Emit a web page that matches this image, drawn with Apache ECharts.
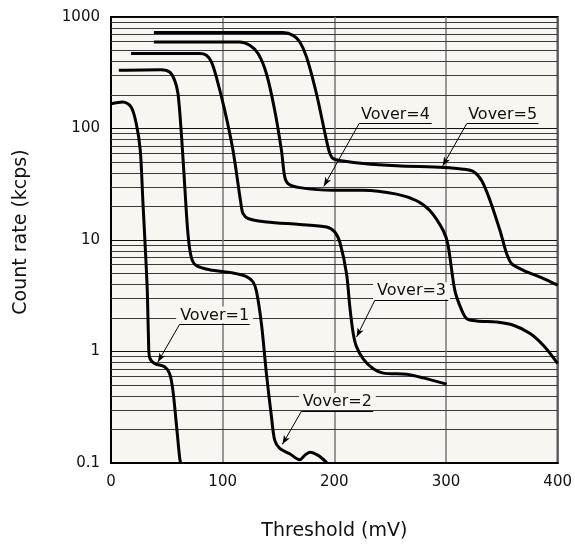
<!DOCTYPE html>
<html>
<head>
<meta charset="utf-8">
<script src="https://cdn.jsdelivr.net/npm/echarts@6/dist/echarts.min.js"></script>
<style>
html,body{margin:0;padding:0;background:#fff;}
#main{width:575px;height:547px;}
</style>
</head>
<body>
<div id="main"></div>
<script>
// X tick values and Y tick labels
var xTicks = [0, 100, 200, 300, 400];
var yTicks = [0.1, 1, 10, 100, 1000];
var yTickLabels = ['0.1', '1', '10', '100', '1000'];
var yMinorMultipliers = [2, 3, 4, 5, 6, 7, 8, 9];

// Series: threshold (mV) and count rate (kcps)
var v1X = [0, 10.6, 18, 22.6, 26.2, 28.5, 30.7, 32.5, 33.6, 34.5, 39, 48, 52.5, 55.4, 58.5, 61.4, 62.3];
var v1Y = [167, 173, 156, 111, 64, 22.7, 8.5, 3.5, 1.26, 0.89, 0.78, 0.73, 0.63, 0.45, 0.225, 0.113, 0.1];

var v2X = [7, 45, 52.5, 57, 60, 63, 65.9, 68.9, 71.9, 76.4, 88.3, 109.2, 121.3, 127.2, 130.2, 134.7, 139.2, 143.7, 146.6, 151.1, 160, 169, 173.5, 178, 185.5, 193.6];
var v2Y = [333, 337, 321, 270, 205, 90, 32, 11.4, 7.0, 5.9, 5.4, 5.06, 4.7, 4.2, 3.5, 1.78, 0.63, 0.26, 0.16, 0.135, 0.121, 0.107, 0.117, 0.125, 0.117, 0.1];

var v3X = [18, 79.4, 85.4, 89.9, 94.3, 101.8, 109.2, 116.8, 118.2, 122.7, 139.2, 169, 193, 200.4, 205, 210.9, 213.9, 216.9, 219.9, 225.8, 234.8, 243.8, 264.7, 279.6, 300.6];
var v3Y = [470, 470, 454, 395, 290, 146, 64, 19.8, 17.3, 15.6, 14.5, 13.8, 13.1, 11.8, 9.5, 5.0, 2.5, 1.45, 1.1, 0.86, 0.70, 0.64, 0.625, 0.58, 0.51];

var v4X = [38.4, 115.2, 124.2, 131.7, 139.2, 146.6, 152.6, 155.6, 158.6, 169.1, 198.9, 225.8, 255.8, 273.7, 285.7, 297.6, 301.8, 308, 314.1, 318.6, 327.5, 345.5, 360.4, 375.3, 387.3, 400];
var v4Y = [597, 597, 557, 470, 310, 146, 64, 36.7, 32, 29.5, 27.9, 28, 25.8, 22.5, 18.3, 12.1, 9.0, 3.5, 2.34, 1.97, 1.88, 1.84, 1.72, 1.45, 1.13, 0.78];

var v5X = [38.4, 154.1, 163, 169.1, 175.1, 184, 193, 196, 198.9, 207.9, 225.8, 255.8, 297.6, 315.5, 324.5, 332, 339.5, 348.4, 352, 354.4, 358.9, 369.3, 387.3, 400];
var v5Y = [725, 725, 685, 597, 438, 205, 78, 59.6, 53.7, 51.2, 48.5, 46.3, 44.7, 43.2, 41.1, 34, 22.5, 12.1, 9, 7.5, 6.1, 5.35, 4.5, 3.93];

// Annotation labels (text, underline start x, underline end x, underline y, arrow tip x, arrow tip y)
var annText  = ['Vover=1', 'Vover=2', 'Vover=3', 'Vover=4', 'Vover=5'];
var annX1    = [61.4, 170.6, 236.3, 222.2, 318.6];
var annX2    = [124.2, 234.8, 302, 287.2, 382.8];
var annY     = [1.75, 0.292, 2.88, 110.7, 110.7];
var annTipX  = [42, 153.5, 219.9, 190.6, 297];
var annTipY  = [0.805, 0.147, 1.35, 30.3, 46.1];

var BG = '#f7f6f0';
var FONT = 'DejaVu Sans';

function zip(xs, ys) { return xs.map(function (x, i) { return [x, ys[i]]; }); }

var minorLines = [];
yTicks.slice(0, -1).forEach(function (d) {
  yMinorMultipliers.forEach(function (m) { minorLines.push({ yAxis: +(m * d).toPrecision(4) }); });
});

var annLines = [];
var annPoints = [];
annText.forEach(function (t, i) {
  annLines.push([{ coord: [annX1[i], annY[i]], symbol: 'none' }, { coord: [annX2[i], annY[i]], symbol: 'none' }]);
  annLines.push([{ coord: [annX1[i], annY[i]], symbol: 'none' }, { coord: [annTipX[i], annTipY[i]], symbol: 'arrow', symbolSize: [5, 9] }]);
  annPoints.push({
    coord: [(annX1[i] + annX2[i]) / 2, annY[i]],
    symbol: 'rect', symbolSize: 0,
    label: {
      show: true, formatter: t, position: 'top', distance: 1,
      color: '#111', fontFamily: FONT, fontSize: 16,
      backgroundColor: BG, padding: [1, 4, 0, 4]
    }
  });
});

function curve(name, xs, ys) {
  return {
    name: name, type: 'line', data: zip(xs, ys), smooth: 0.3,
    showSymbol: false, symbol: 'none', z: 5,
    lineStyle: { color: '#000', width: 3 }, animation: false, silent: true
  };
}

var chart = echarts.init(document.getElementById('main'), null, { renderer: 'canvas' });
chart.setOption({
  backgroundColor: '#fff',
  animation: false,
  grid: {
    left: 111, right: 17, top: 17, bottom: 84,
    show: true, backgroundColor: BG, borderColor: '#000', borderWidth: 2, z: 0
  },
  xAxis: {
    type: 'value', min: xTicks[0], max: xTicks[xTicks.length - 1], interval: 100,
    name: 'Threshold (mV)', nameLocation: 'middle', nameGap: 59,
    nameTextStyle: { fontFamily: FONT, fontSize: 19, color: '#111' },
    axisLine: { show: true, lineStyle: { color: '#000', width: 2 } },
    axisTick: { show: false },
    axisLabel: { fontFamily: FONT, fontSize: 15, color: '#111', margin: 12 },
    splitLine: { show: true, lineStyle: { color: '#777', width: 1.5 } }
  },
  yAxis: {
    type: 'log', logBase: 10, min: yTicks[0], max: yTicks[yTicks.length - 1],
    name: 'Count rate (kcps)', nameLocation: 'middle', nameGap: 80,
    nameTextStyle: { fontFamily: FONT, fontSize: 19, color: '#111', padding: [0, 0, 0, 16] },
    axisLine: { show: true, lineStyle: { color: '#000', width: 2 } },
    axisTick: { show: false },
    axisLabel: {
      fontFamily: FONT, fontSize: 15, color: '#111', margin: 11,
      formatter: function (v) {
        for (var i = 0; i < yTicks.length; i++) {
          if (Math.abs(Math.log10(v) - Math.log10(yTicks[i])) < 1e-6) return yTickLabels[i];
        }
        return '';
      }
    },
    splitLine: { show: true, lineStyle: { color: '#111', width: 1 } },
    minorTick: { show: false }
  },
  series: [
    {
      type: 'line', data: [], z: 1, silent: true,
      markLine: {
        silent: true, animation: false, symbol: ['none', 'none'],
        label: { show: false }, emphasis: { disabled: true },
        lineStyle: { color: '#3a3a3a', width: 1, type: 'solid' },
        data: minorLines
      }
    },
    curve('Vover=1', v1X, v1Y),
    curve('Vover=2', v2X, v2Y),
    curve('Vover=3', v3X, v3Y),
    curve('Vover=4', v4X, v4Y),
    curve('Vover=5', v5X, v5Y),
    {
      type: 'line', data: [], z: 8, silent: true,
      markLine: {
        silent: true, animation: false, symbol: ['none', 'none'],
        label: { show: false }, emphasis: { disabled: true },
        lineStyle: { color: '#000', width: 1, type: 'solid' },
        data: annLines
      },
      markPoint: {
        silent: true, animation: false,
        data: annPoints
      }
    }
  ]
});
</script>
</body>
</html>
